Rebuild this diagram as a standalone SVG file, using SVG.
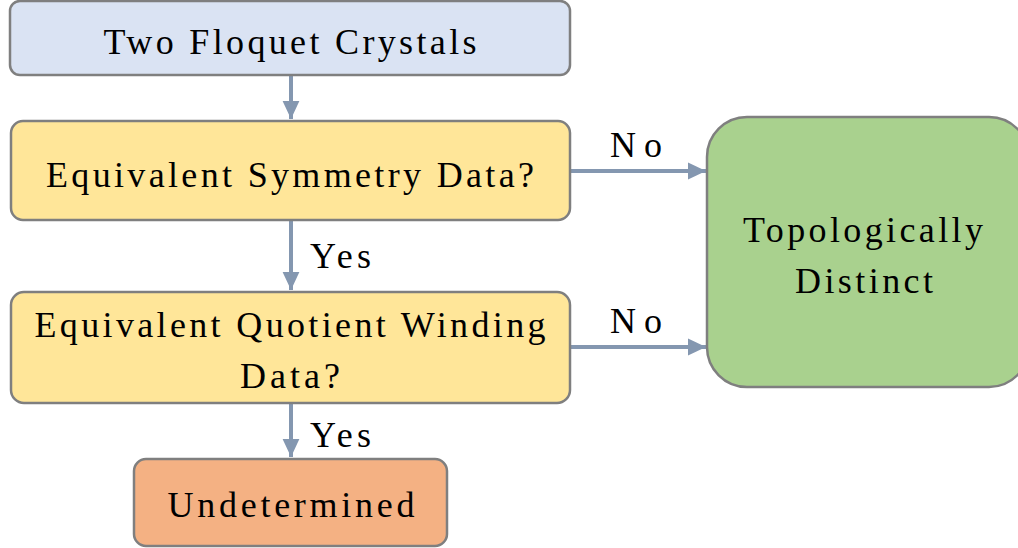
<svg xmlns="http://www.w3.org/2000/svg" width="1018" height="548" viewBox="0 0 1018 548">
<style>
.box{stroke:#7f7f7f;stroke-width:2.5}
text{font-family:'Liberation Serif','Times New Roman',serif;font-size:36px;fill:#000}
.t{text-anchor:middle}
.c{stroke:#8497b0;stroke-width:4;fill:none}
</style>
<defs>
<marker id="ah" markerWidth="5" markerHeight="5" refX="4.5" refY="2.5" orient="auto" markerUnits="strokeWidth">
<path d="M0,0.4 L4.5,2.5 L0,4.6 Z" fill="#8497b0"/>
</marker>
</defs>
<g id="connectors">
<line class="c" x1="291" y1="76" x2="291" y2="119" marker-end="url(#ah)"/>
<line class="c" x1="291" y1="221" x2="291" y2="290" marker-end="url(#ah)"/>
<line class="c" x1="291" y1="404" x2="291" y2="457" marker-end="url(#ah)"/>
<line class="c" x1="571" y1="171" x2="706" y2="171" marker-end="url(#ah)"/>
<line class="c" x1="571" y1="347" x2="706" y2="347" marker-end="url(#ah)"/>
<text x="310" y="268" textLength="61" lengthAdjust="spacing">Yes</text>
<text x="310" y="447" textLength="61" lengthAdjust="spacing">Yes</text>
<text x="610" y="157" textLength="52" lengthAdjust="spacing">No</text>
<text x="610" y="333" textLength="52" lengthAdjust="spacing">No</text>
</g>
<g id="n1">
<rect class="box" x="10" y="1" width="560" height="74" rx="10" fill="#dae3f3"/>
<text class="t" x="290" y="54" textLength="373" lengthAdjust="spacing">Two Floquet Crystals</text>
</g>
<g id="n2">
<rect class="box" x="11" y="121" width="559" height="99" rx="12" fill="#ffe699"/>
<text class="t" x="290" y="187" textLength="488" lengthAdjust="spacing">Equivalent Symmetry Data?</text>
</g>
<g id="n3">
<rect class="box" x="11" y="292" width="559" height="111" rx="13" fill="#ffe699"/>
<text class="t" x="290" y="337" textLength="511" lengthAdjust="spacing">Equivalent Quotient Winding</text>
<text class="t" x="290" y="388" textLength="100" lengthAdjust="spacing">Data?</text>
</g>
<g id="n4">
<rect class="box" x="134" y="459" width="313" height="87" rx="12" fill="#f4b183"/>
<text class="t" x="291" y="517" textLength="247" lengthAdjust="spacing">Undetermined</text>
</g>
<g id="n5">
<rect class="box" x="707" y="117" width="322" height="270" rx="40" fill="#a9d18e"/>
<text class="t" x="863" y="242" textLength="240" lengthAdjust="spacing">Topologically</text>
<text class="t" x="864" y="293" textLength="138" lengthAdjust="spacing">Distinct</text>
</g>
</svg>
